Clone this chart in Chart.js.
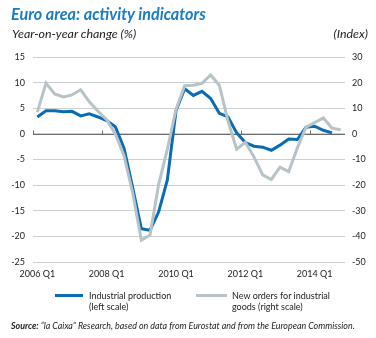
<!DOCTYPE html>
<html>
<head>
<meta charset="utf-8">
<script src="https://cdn.jsdelivr.net/npm/chart.js@4.4.1/dist/chart.umd.min.js"></script>
<style>
  html, body { margin: 0; padding: 0; background: #fff; }
  body { width: 376px; height: 338px; position: relative; overflow: hidden; font-family: Lato, "Open Sans", sans-serif; color: #222; }
  #wrap { position: absolute; left: 0; top: 0; width: 376px; height: 338px; }
  .t { position: absolute; white-space: nowrap; }
  #title { left: 11px; top: 4px; font-size: 16.2px; font-weight: bold; font-style: italic; color: #1a7cc3; }
  #sub { left: 12px; top: 26px; font-size: 12.4px; font-style: italic; color: #222; }
  #idx { right: 8px; top: 26px; font-size: 12.4px; font-style: italic; color: #222; }
  .sw { position: absolute; height: 3px; }
  .lg { position: absolute; font-size: 9px; line-height: 11px; color: #222; }
  #src { left: 11px; top: 320px; font-size: 8.9px; font-style: italic; color: #222; }
</style>
</head>
<body>
<div id="wrap"><canvas id="c" width="376" height="338"></canvas></div>
<div class="t" id="title">Euro area: activity indicators</div>
<div class="t" id="sub">Year-on-year change (%)</div>
<div class="t" id="idx">(Index)</div>
<div class="sw" style="left:55px; top:294px; width:28px; background:#0a6cb4;"></div>
<div class="lg" style="left:89px; top:290px;">Industrial production<br>(left scale)</div>
<div class="sw" style="left:196px; top:294px; width:31px; background:#b7c3c7;"></div>
<div class="lg" style="left:232px; top:290px;">New orders for industrial<br>goods (right scale)</div>
<div class="t" id="src"><b>Source:</b> “la Caixa” Research, based on data from Eurostat and from the European Commission.</div>
<script>
// Quarters 2006 Q1 .. 2014 Q4
const years = [2006, 2007, 2008, 2009, 2010, 2011, 2012, 2013, 2014];
const quarters = [];
years.forEach(y => { for (let q = 1; q <= 4; q++) quarters.push(y + ' Q' + q); });

// Industrial production, year-on-year change (%), left scale
const industrialProduction = [3.3, 4.5, 4.5, 4.3, 4.4, 3.5, 3.9, 3.3, 2.6, 1.4, -2.8, -10.5,
  -18.5, -18.8, -15.2, -9.0, 4.5, 8.8, 7.5, 8.3, 6.9, 4.0, 3.3, 0.2,
  -1.7, -2.4, -2.6, -3.2, -2.2, -1.0, -1.1, 1.3, 1.5, 0.7, 0.2, null];

// New orders for industrial goods (index), right scale
const newOrders = [8.5, 19.8, 15.6, 14.4, 15.2, 17.2, 12.5, 8.8, 5.5, 0.0, -8.5, -23.0,
  -41.5, -39.5, -19.7, -6.0, 9.5, 18.8, 19.0, 19.7, 23.0, 19.0, 5.0, -6.0,
  -3.3, -9.0, -16.0, -17.8, -13.0, -14.7, -5.5, 2.6, 4.4, 6.2, 2.2, 1.6];

const leftTicks = { min: -25, max: 15, step: 5 };
const rightTicks = { min: -50, max: 30, step: 10 };
const labelEvery = 8;

const zeroLine = {
  id: 'zeroLine',
  beforeDatasetsDraw(chart) {
    const { ctx, chartArea, scales } = chart;
    const y0 = Math.round(scales.yL.getPixelForValue(0)) + 0.5;
    const xs = scales.x;
    const half = (xs.getPixelForValue(1) - xs.getPixelForValue(0)) / 2;
    ctx.save();
    ctx.strokeStyle = '#6b6b6b';
    ctx.lineWidth = 1;
    ctx.beginPath();
    ctx.moveTo(chartArea.left, y0);
    ctx.lineTo(chartArea.right, y0);
    for (let i = 0; i < quarters.length; i += labelEvery) {
      const xp = Math.round(xs.getPixelForValue(i) - half) + 0.5;
      ctx.moveTo(xp, y0);
      ctx.lineTo(xp, y0 - 4);
    }
    ctx.stroke();
    ctx.restore();
  }
};

const tickFont = { family: 'Lato, "Open Sans", sans-serif', size: 9 };

new Chart(document.getElementById('c'), {
  type: 'line',
  data: {
    labels: quarters,
    datasets: [
      { label: 'New orders for industrial goods (right scale)', data: newOrders, yAxisID: 'yR',
        borderColor: '#b7c3c7', borderWidth: 3, pointRadius: 0, tension: 0, fill: false,
        borderJoinStyle: 'miter' },
      { label: 'Industrial production (left scale)', data: industrialProduction, yAxisID: 'yL',
        borderColor: '#0a6cb4', borderWidth: 3, pointRadius: 0, tension: 0, fill: false,
        borderJoinStyle: 'miter' }
    ]
  },
  options: {
    responsive: false,
    animation: false,
    events: [],
    layout: { padding: { top: 57, left: 0, right: 0, bottom: 0 } },
    plugins: { legend: { display: false }, tooltip: { enabled: false }, title: { display: false } },
    scales: {
      x: {
        type: 'category',
        offset: true,
        grid: { display: false, drawTicks: false },
        border: { display: false },
        afterFit(s) { s.height = 76; },
        ticks: {
          autoSkip: false, maxRotation: 0, minRotation: 0, padding: 7,
          color: '#222', font: tickFont,
          callback(v, i) { return i % labelEvery === 0 ? quarters[i] : ''; }
        }
      },
      yL: {
        position: 'left',
        min: leftTicks.min, max: leftTicks.max,
        afterFit(s) { s.width = 33; },
        grid: { color: '#cdd0d1', lineWidth: 1, drawTicks: false },
        border: { display: false },
        ticks: { stepSize: leftTicks.step, padding: 8, color: '#222', font: tickFont }
      },
      yR: {
        position: 'right',
        min: rightTicks.min, max: rightTicks.max,
        afterFit(s) { s.width = 31; },
        grid: { display: false, drawTicks: false },
        border: { display: false },
        ticks: { stepSize: rightTicks.step, padding: 7, color: '#222', font: tickFont }
      }
    }
  },
  plugins: [zeroLine]
});
</script>
</body>
</html>
